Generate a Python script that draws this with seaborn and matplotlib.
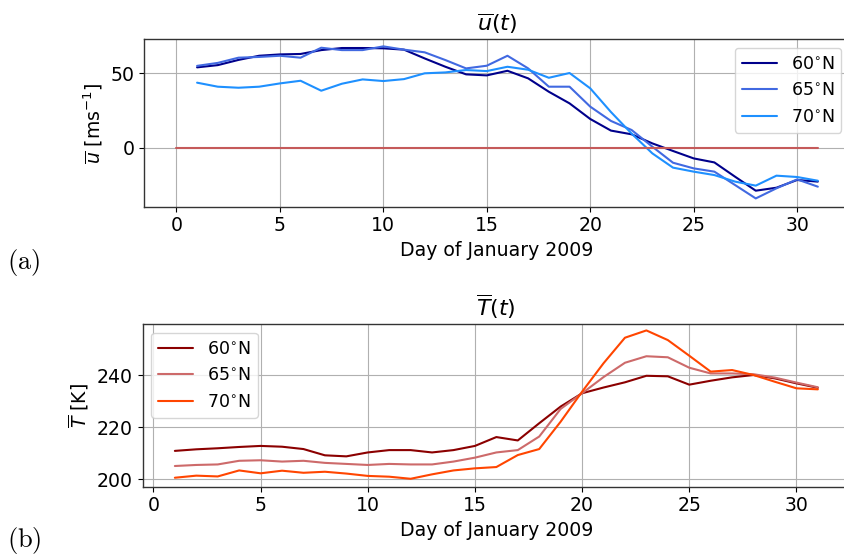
import matplotlib
matplotlib.use("Agg")
import matplotlib.pyplot as plt
import seaborn as sns

# Daily values, January 2009
days = list(range(1, 32))
labels = ["60$^{\\circ}$N", "65$^{\\circ}$N", "70$^{\\circ}$N"]

u60 = [54.0, 55.5, 59.0, 61.8, 62.7, 63.0, 65.6, 67.0, 67.0, 66.8, 65.9, 60.0, 54.4, 49.3, 48.6, 51.7,
       46.6, 37.6, 29.8, 19.3, 11.5, 9.0, 2.9, -2.2, -7.2, -9.9, -19.5, -28.9, -26.9, -21.7, -22.8]
u65 = [55.0, 57.0, 60.5, 61.0, 61.8, 60.5, 67.2, 65.6, 65.6, 68.1, 65.9, 64.1, 58.9, 53.3, 55.1, 61.8,
       53.3, 41.0, 41.0, 27.6, 18.0, 11.9, 0.7, -10.1, -13.9, -16.1, -25.1, -34.1, -27.3, -21.3, -26.2]
u70 = [43.7, 41.0, 40.3, 41.0, 43.2, 45.0, 38.3, 43.0, 45.9, 44.8, 46.1, 50.0, 50.6, 52.2, 51.5, 54.4,
       52.4, 47.0, 50.2, 39.9, 24.0, 9.5, -3.8, -13.4, -16.1, -18.4, -22.8, -25.5, -18.8, -19.7, -22.2]

T60 = [210.9, 211.5, 211.9, 212.4, 212.8, 212.5, 211.6, 209.2, 208.8, 210.3, 211.2, 211.2, 210.3, 211.2,
       212.8, 216.2, 214.9, 221.5, 227.9, 233.0, 235.2, 237.2, 239.7, 239.5, 236.3, 237.8, 239.1, 240.0,
       238.7, 236.8, 235.1]
T65 = [205.1, 205.5, 205.7, 207.1, 207.3, 206.8, 207.1, 206.3, 205.9, 205.5, 205.9, 205.7, 205.7, 206.8,
       208.3, 210.3, 211.2, 216.4, 227.0, 233.0, 239.2, 244.7, 247.2, 246.8, 242.8, 240.6, 240.6, 240.3,
       239.0, 237.1, 235.3]
T70 = [200.6, 201.4, 201.1, 203.4, 202.3, 203.3, 202.5, 202.9, 202.2, 201.3, 201.0, 200.2, 201.9, 203.4,
       204.2, 204.7, 209.3, 211.6, 222.1, 233.6, 244.5, 254.3, 257.1, 253.4, 247.4, 241.3, 241.9, 240.0,
       237.4, 234.9, 234.5]

zero_x = [0, 31]
zero_y = [0, 0]

u_colors = ["#00008b", "#4169e1", "#1e90ff"]
T_colors = ["#8b0000", "#cd6a6a", "#ff4500"]

sns.set_theme(style="ticks")
plt.rcParams.update({
    "font.family": ["DejaVu Sans"],
    "font.size": 13.6,
    "axes.labelsize": 13.6,
    "xtick.labelsize": 13.6,
    "ytick.labelsize": 13.6,
    "legend.fontsize": 12.5,
    "axes.titlesize": 16,
    "text.color": "black",
    "axes.labelcolor": "black",
    "xtick.color": "black",
    "ytick.color": "black",
    "axes.edgecolor": "#333333",
    "axes.linewidth": 1.0,
    "xtick.major.size": 3.5,
    "ytick.major.size": 3.5,
    "xtick.major.width": 0.8,
    "ytick.major.width": 0.8,
    "grid.color": "#b0b0b0",
    "grid.linewidth": 0.8,
})

fig = plt.figure(figsize=(8.45, 5.55), dpi=100)
ax1 = fig.add_axes([0.1708, 0.6276, 0.835, 0.3021])
ax2 = fig.add_axes([0.1689, 0.1231, 0.837, 0.2931])

# (a) zonal mean wind
for vals, lab, col in zip([u60, u65, u70], labels, u_colors):
    sns.lineplot(x=days, y=vals, ax=ax1, color=col, label=lab, linewidth=1.5)
sns.lineplot(x=zero_x, y=zero_y, ax=ax1, color="#c55a5a", linewidth=1.5)
ax1.set_xlim(-1.55, 32.55)
ax1.set_ylim(-39.65, 73.05)
ax1.set_yticks([0, 50])
ax1.set_xticks([0, 5, 10, 15, 20, 25, 30])
ax1.grid(True)
ax1.set_title("$\\overline{u}(t)$")
ax1.set_ylabel("$\\overline{u}$ [ms$^{-1}$]")
ax1.set_xlabel("Day of January 2009")
ax1.legend(loc="upper right")

# (b) zonal mean temperature
for vals, lab, col in zip([T60, T65, T70], labels, T_colors):
    sns.lineplot(x=days, y=vals, ax=ax2, color=col, label=lab, linewidth=1.5)
ax2.set_xlim(-0.5, 32.5)
ax2.set_ylim(197.17, 259.56)
ax2.set_yticks([200, 220, 240])
ax2.set_xticks([0, 5, 10, 15, 20, 25, 30])
ax2.grid(True)
ax2.set_title("$\\overline{T}(t)$")
ax2.set_ylabel("$\\overline{T}$ [K]")
ax2.set_xlabel("Day of January 2009")
ax2.legend(loc="upper left")

fig.text(0.008, 1 - 262 / 555, "$\\mathrm{(a)}$", fontsize=19, va="center", ha="left", math_fontfamily="cm")
fig.text(0.008, 1 - 541 / 555, "$\\mathrm{(b)}$", fontsize=19, va="center", ha="left", math_fontfamily="cm")

fig.savefig("out.png", dpi=100)
